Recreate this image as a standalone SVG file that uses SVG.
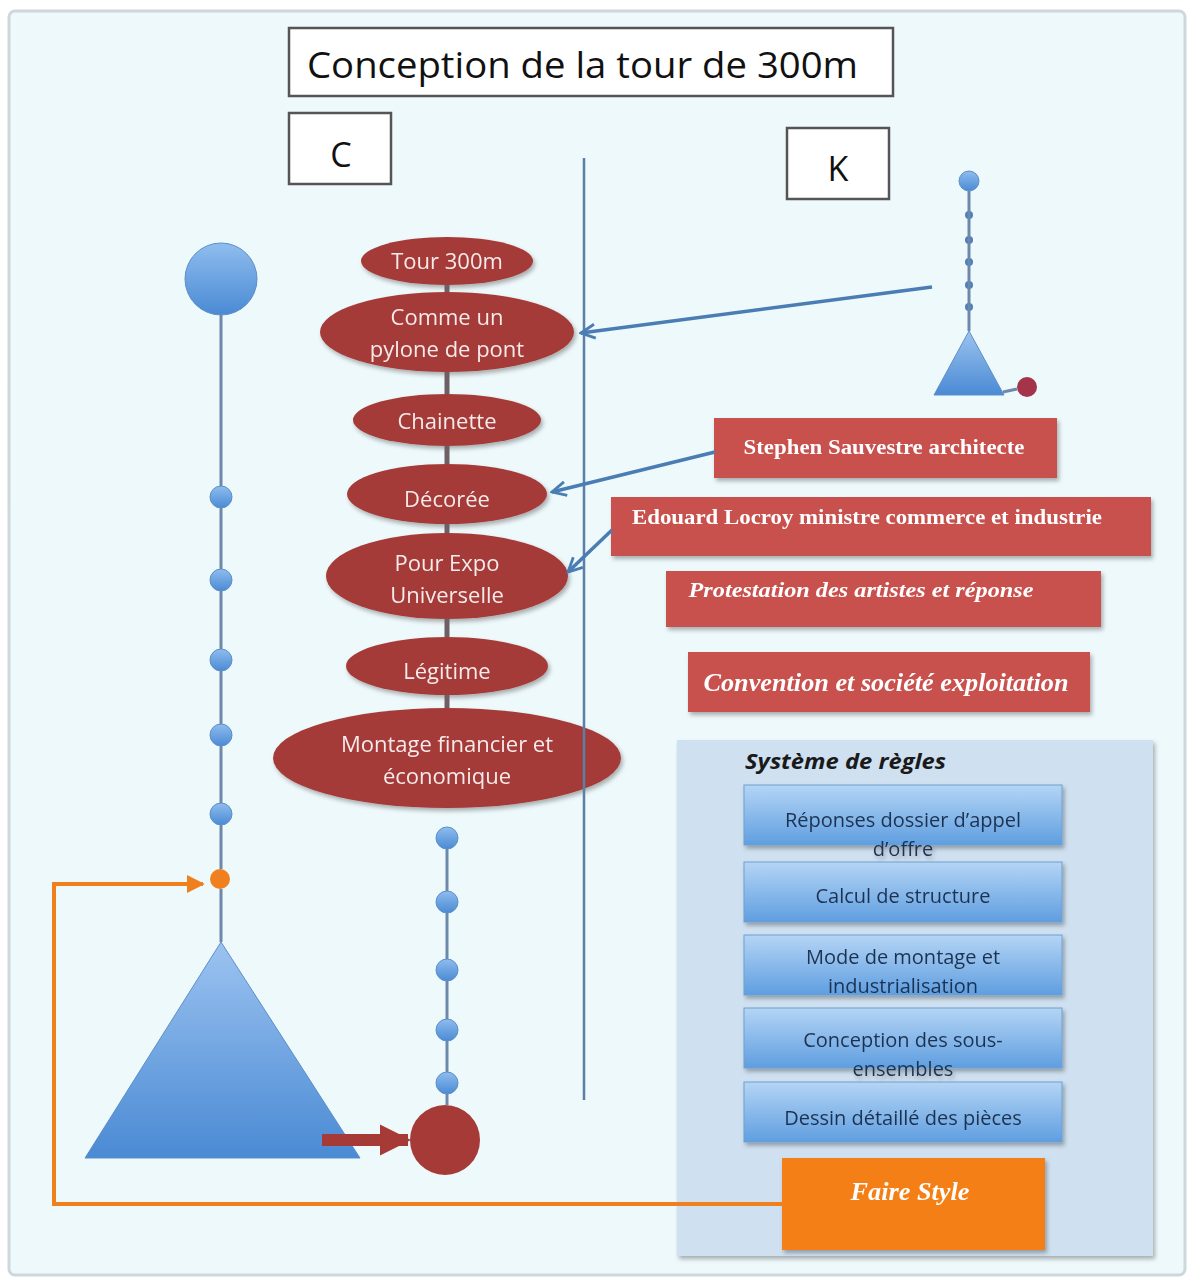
<svg xmlns="http://www.w3.org/2000/svg" width="1192" height="1280" viewBox="0 0 1192 1280">
<style>
.frame{fill:#eef9fb;stroke:#cdd8dc;stroke-width:3}
.wbox{fill:#ffffff;stroke:#555;stroke-width:2.5}
.big{font-family:"Open Sans","Liberation Sans",sans-serif;fill:#111}
.ell{fill:#a53a37}
.etxt{font-family:"Open Sans","Liberation Sans",sans-serif;font-size:22px;fill:#f6eaea;text-anchor:middle}
.rbox{fill:#c9514d}
.rtxt{font-family:"Liberation Serif",serif;font-weight:bold;fill:#fff;text-anchor:middle}
.bbox{fill:url(#bgrad);stroke:#6f9fd0;stroke-width:1}
.btxt{font-family:"Open Sans","Liberation Sans",sans-serif;font-size:20px;fill:#1d3352;text-anchor:middle}
.chain{stroke:#6d88ab;stroke-width:3;fill:none}
.spine{stroke:#6d5f63;stroke-width:5}
.bead{fill:url(#cgrad);stroke:#5d8fc8;stroke-width:1}
.blue-arrow{stroke:#4a7db3;stroke-width:3.5;fill:none;marker-end:url(#barrow)}
</style>
<defs>
<linearGradient id="bgrad" x1="0" y1="0" x2="0" y2="1"><stop offset="0" stop-color="#b4d5f5"/><stop offset="1" stop-color="#5f9ee0"/></linearGradient>
<linearGradient id="cgrad" x1="0" y1="0" x2="0" y2="1"><stop offset="0" stop-color="#8fbdee"/><stop offset="1" stop-color="#4a8ad4"/></linearGradient>
<linearGradient id="tgrad" x1="0" y1="0" x2="0" y2="1"><stop offset="0" stop-color="#9cc3f0"/><stop offset="1" stop-color="#4a8ad4"/></linearGradient>
<filter id="sh" x="-10%" y="-10%" width="125%" height="140%"><feDropShadow dx="2" dy="3" stdDeviation="2" flood-color="#000" flood-opacity="0.3"/></filter>
<marker id="barrow" viewBox="0 0 10 10" refX="9" refY="5" markerWidth="5" markerHeight="5" orient="auto" markerUnits="strokeWidth"><path d="M1,1 L9,5 L1,9" fill="none" stroke="#4a7db3" stroke-width="1.6"/></marker>
<marker id="oarrow" viewBox="0 0 10 10" refX="9" refY="5" markerWidth="4.5" markerHeight="4.5" orient="auto" markerUnits="strokeWidth"><path d="M0,0 L10,5 L0,10 z" fill="#f07f1e"/></marker>
<marker id="rarrow" viewBox="0 0 10 10" refX="9" refY="5" markerWidth="2.6" markerHeight="2.6" orient="auto" markerUnits="strokeWidth"><path d="M0,0 L10,5 L0,10 z" fill="#a53a37"/></marker>
</defs>

<rect x="0" y="0" width="1192" height="1280" fill="#ffffff"/>
<rect class="frame" x="9" y="11" width="1176" height="1264" rx="6"/>

<g id="title"><rect class="wbox" x="289" y="28" width="604" height="68"/><text class="big" x="307" y="78" font-size="36" textLength="551" lengthAdjust="spacingAndGlyphs">Conception de la tour de 300m</text></g>
<g id="label-c"><rect class="wbox" x="289" y="113" width="102" height="71"/><text class="big" x="341" y="167" font-size="34" text-anchor="middle">C</text></g>
<g id="label-k"><rect class="wbox" x="787" y="128" width="102" height="71"/><text class="big" x="838" y="181" font-size="34" text-anchor="middle">K</text></g>

<g id="regles">
<rect x="677" y="740" width="476" height="516" fill="#cfe0f0" filter="url(#sh)"/>
<text x="745" y="769" font-family="'Open Sans','Liberation Sans',sans-serif" font-size="21" font-weight="bold" font-style="italic" fill="#1a1a1a" textLength="201" lengthAdjust="spacingAndGlyphs">Système de règles</text>
</g>

<g id="c-tree">
<circle class="bead" cx="221" cy="279" r="36"/>
<circle class="bead" cx="221" cy="497" r="11"/>
<circle class="bead" cx="221" cy="580" r="11"/>
<circle class="bead" cx="221" cy="660" r="11"/>
<circle class="bead" cx="221" cy="735" r="11"/>
<circle class="bead" cx="221" cy="814" r="11"/>
<circle cx="220" cy="879" r="10" fill="#f07f1e"/>
<polygon points="221,942 360,1158 85,1158" fill="url(#tgrad)" stroke="#5d8fc8" stroke-width="1"/>
</g>

<g id="c-chain2">
<circle class="bead" cx="447" cy="838" r="11"/>
<circle class="bead" cx="447" cy="902" r="11"/>
<circle class="bead" cx="447" cy="970" r="11"/>
<circle class="bead" cx="447" cy="1030" r="11"/>
<circle class="bead" cx="447" cy="1083" r="11"/>
<circle cx="445" cy="1140" r="35" fill="#a53a37"/>
</g>

<g id="k-tree">
<circle class="bead" cx="969" cy="181" r="10"/>
<circle cx="969" cy="215" r="4" fill="#4d7fb8"/>
<circle cx="969" cy="240" r="4" fill="#4d7fb8"/>
<circle cx="969" cy="262" r="4" fill="#4d7fb8"/>
<circle cx="969" cy="285" r="4" fill="#4d7fb8"/>
<circle cx="969" cy="307" r="4" fill="#4d7fb8"/>
<polygon points="969,331 1004,395 934,395" fill="url(#tgrad)" stroke="#5d8fc8" stroke-width="1"/>
<circle cx="1027" cy="387" r="10" fill="#a3344a"/>
</g>

<g id="e-tour" filter="url(#sh)"><ellipse class="ell" cx="447" cy="261" rx="86" ry="24"/><text class="etxt" x="447" y="269">Tour 300m</text></g>
<g id="e-pylone" filter="url(#sh)"><ellipse class="ell" cx="447" cy="332" rx="127" ry="40"/><text class="etxt" x="447" y="325">Comme un</text><text class="etxt" x="447" y="357">pylone de pont</text></g>
<g id="e-chainette" filter="url(#sh)"><ellipse class="ell" cx="447" cy="420" rx="94" ry="26"/><text class="etxt" x="447" y="429">Chainette</text></g>
<g id="e-decoree" filter="url(#sh)"><ellipse class="ell" cx="447" cy="494" rx="100" ry="30"/><text class="etxt" x="447" y="507">Décorée</text></g>
<g id="e-expo" filter="url(#sh)"><ellipse class="ell" cx="447" cy="576" rx="121" ry="43"/><text class="etxt" x="447" y="571">Pour Expo</text><text class="etxt" x="447" y="603">Universelle</text></g>
<g id="e-legitime" filter="url(#sh)"><ellipse class="ell" cx="447" cy="666" rx="101" ry="29"/><text class="etxt" x="447" y="679">Légitime</text></g>
<g id="e-montage" filter="url(#sh)"><ellipse class="ell" cx="447" cy="758" rx="174" ry="50"/><text class="etxt" x="447" y="752">Montage financier et</text><text class="etxt" x="447" y="784">économique</text></g>

<g id="k-sauvestre" filter="url(#sh)"><rect class="rbox" x="714" y="418" width="343" height="60"/><text class="rtxt" x="884" y="454" font-size="21" textLength="281" lengthAdjust="spacingAndGlyphs">Stephen Sauvestre architecte</text></g>
<g id="k-lockroy" filter="url(#sh)"><rect class="rbox" x="611" y="497" width="540" height="59"/><text class="rtxt" x="867" y="524" font-size="21" textLength="470" lengthAdjust="spacingAndGlyphs">Edouard Locroy ministre commerce et industrie</text></g>
<g id="k-protestation" filter="url(#sh)"><rect class="rbox" x="666" y="571" width="435" height="56"/><text class="rtxt" x="861" y="597" font-size="21" font-style="italic" textLength="345" lengthAdjust="spacingAndGlyphs">Protestation des artistes et réponse</text></g>
<g id="k-convention" filter="url(#sh)"><rect class="rbox" x="688" y="652" width="402" height="60"/><text class="rtxt" x="886" y="691" font-size="25" font-style="italic" textLength="365" lengthAdjust="spacingAndGlyphs">Convention et société exploitation</text></g>

<g id="r1" filter="url(#sh)"><rect class="bbox" x="744" y="785" width="318" height="60"/><text class="btxt" x="903" y="827">Réponses dossier d’appel</text><text class="btxt" x="903" y="856">d’offre</text></g>
<g id="r2" filter="url(#sh)"><rect class="bbox" x="744" y="862" width="318" height="60"/><text class="btxt" x="903" y="903">Calcul de structure</text></g>
<g id="r3" filter="url(#sh)"><rect class="bbox" x="744" y="935" width="318" height="60"/><text class="btxt" x="903" y="964">Mode de montage et</text><text class="btxt" x="903" y="993">industrialisation</text></g>
<g id="r4" filter="url(#sh)"><rect class="bbox" x="744" y="1008" width="318" height="60"/><text class="btxt" x="903" y="1047">Conception des sous-</text><text class="btxt" x="903" y="1076">ensembles</text></g>
<g id="r5" filter="url(#sh)"><rect class="bbox" x="744" y="1082" width="318" height="60"/><text class="btxt" x="903" y="1125">Dessin détaillé des pièces</text></g>
<g id="faire-style" filter="url(#sh)"><rect x="782" y="1158" width="263" height="92" fill="#f47f14"/><text class="rtxt" x="910" y="1200" font-size="25" font-style="italic" textLength="119" lengthAdjust="spacingAndGlyphs">Faire Style</text></g>

<g id="connectors">
<line x1="584" y1="158" x2="584" y2="1100" stroke="#5b7fa8" stroke-width="2.5"/>
<line class="chain" x1="221" y1="315" x2="221" y2="486"/>
<line class="chain" x1="221" y1="508" x2="221" y2="569"/>
<line class="chain" x1="221" y1="591" x2="221" y2="649"/>
<line class="chain" x1="221" y1="671" x2="221" y2="724"/>
<line class="chain" x1="221" y1="746" x2="221" y2="803"/>
<line class="chain" x1="221" y1="825" x2="221" y2="869"/>
<line class="chain" x1="221" y1="889" x2="221" y2="942"/>
<line class="chain" x1="447" y1="849" x2="447" y2="891"/>
<line class="chain" x1="447" y1="913" x2="447" y2="959"/>
<line class="chain" x1="447" y1="981" x2="447" y2="1019"/>
<line class="chain" x1="447" y1="1041" x2="447" y2="1072"/>
<line class="chain" x1="447" y1="1094" x2="447" y2="1105"/>
<line class="spine" x1="447" y1="285" x2="447" y2="292"/>
<line class="spine" x1="447" y1="372" x2="447" y2="394"/>
<line class="spine" x1="447" y1="446" x2="447" y2="464"/>
<line class="spine" x1="447" y1="524" x2="447" y2="533"/>
<line class="spine" x1="447" y1="619" x2="447" y2="637"/>
<line class="spine" x1="447" y1="695" x2="447" y2="708"/>
<line class="chain" x1="969" y1="191" x2="969" y2="331" stroke-width="2.5"/>
<line x1="1003" y1="392" x2="1017" y2="389" stroke="#6d88ab" stroke-width="3"/>
<line class="blue-arrow" x1="932" y1="287" x2="581" y2="333"/>
<line class="blue-arrow" x1="715" y1="452" x2="552" y2="492"/>
<line class="blue-arrow" x1="612" y1="530" x2="568" y2="572"/>
<polyline points="782,1204 54,1204 54,884 203,884" fill="none" stroke="#f07f1e" stroke-width="4" marker-end="url(#oarrow)"/>
<line x1="322" y1="1140" x2="408" y2="1140" stroke="#a53a37" stroke-width="12" marker-end="url(#rarrow)"/>
</g>
</svg>
